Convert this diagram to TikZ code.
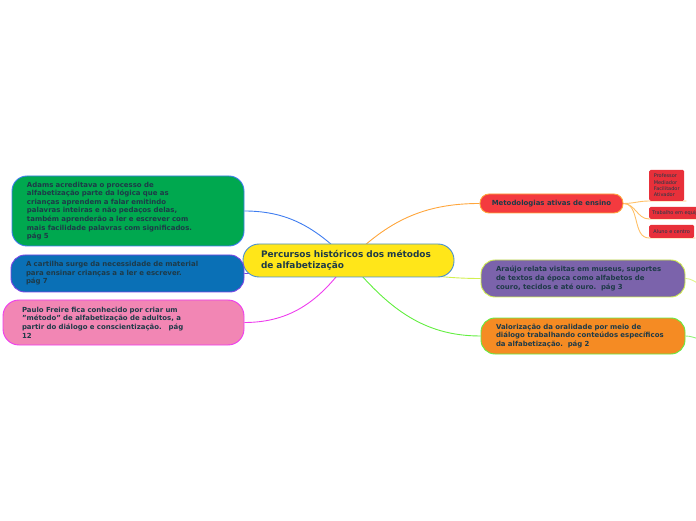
\documentclass[tikz,border=0pt]{standalone}
\usepackage{fontspec}
\setmainfont{DejaVu Sans}
\usetikzlibrary{backgrounds}
\definecolor{inkdark}{HTML}{1E3A48}
\definecolor{rootfill}{HTML}{FFE619}
\definecolor{rootline}{HTML}{4A90D0}
\definecolor{adamsfill}{HTML}{00A84F}
\definecolor{adamsline}{HTML}{3F7DF0}
\definecolor{cartfill}{HTML}{0A70B6}
\definecolor{cartline}{HTML}{7A45E6}
\definecolor{freirefill}{HTML}{F286B4}
\definecolor{freireline}{HTML}{EE3CEE}
\definecolor{metfill}{HTML}{F43A3F}
\definecolor{metline}{HTML}{FFA63C}
\definecolor{leafred}{HTML}{E8303A}
\definecolor{leafline}{HTML}{FFC066}
\definecolor{araujofill}{HTML}{7B63AB}
\definecolor{araujoline}{HTML}{D2F050}
\definecolor{oralfill}{HTML}{F58B23}
\definecolor{oralline}{HTML}{62EE40}
\begin{document}
\begin{tikzpicture}[x=1pt,y=1pt,
  topic/.style={rounded corners=14pt,line width=0.9pt,align=left,inner xsep=15pt,inner ysep=2pt,
    text=inkdark,font=\fontsize{6.95}{8.6}\selectfont\bfseries},
  leaf/.style={fill=leafred,rounded corners=1.5pt,align=left,inner xsep=3pt,inner ysep=2pt,
    text=inkdark,font=\fontsize{5}{6.3}\selectfont,anchor=south west},
  link/.style={line width=0.9pt}]
\useasboundingbox (0,0) rectangle (696,520);
\node[topic,fill=rootfill,draw=rootline,text width=175pt,inner xsep=18pt,minimum height=33pt,rounded corners=16pt,
  font=\fontsize{8.95}{11}\selectfont\bfseries] (central) at (348.5,259.5) {Percursos históricos dos métodos\\de alfabetização};
\node[topic,fill=adamsfill,draw=adamsline,text width=202pt,minimum height=70pt,rounded corners=15pt] (adams) at (128,309)
  {Adams acreditava o processo de\\alfabetização parte da lógica que as\\crianças aprendem a falar emitindo\\palavras inteiras e não pedaços delas,\\também aprenderão a ler e escrever com\\mais facilidade palavras com significados.\\pág 5};
\node[topic,fill=cartfill,draw=cartline,text width=203pt,minimum height=37pt] (cartilha) at (127.5,246.5)
  {A cartilha surge da necessidade de material\\para ensinar crianças a a ler e escrever.\\pág 7};
\node[topic,fill=freirefill,draw=freireline,text width=203pt,inner xsep=19pt,minimum height=45pt,rounded corners=16pt] (freire) at (123.5,197.5)
  {Paulo Freire fica conhecido por criar um\\"método" de alfabetização de adultos, a\\partir do diálogo e conscientização.\ \ \ pág\\12};
\node[topic,fill=metfill,draw=metline,align=center,inner xsep=2pt,minimum width=143pt,minimum height=19pt,rounded corners=9pt] (metodos) at (551.5,316.5)
  {Metodologias ativas de ensino};
\node[topic,fill=araujofill,draw=araujoline,text width=174pt,minimum height=37pt] (araujo) at (583,241.5)
  {Araújo relata visitas em museus, suportes\\de textos da época como alfabetos de\\couro, tecidos e até ouro.\ \ pág 3};
\node[topic,fill=oralfill,draw=oralline,text width=174pt,minimum height=36pt] (oral) at (583,184)
  {Valorização da oralidade por meio de\\diálogo trabalhando conteúdos específicos\\da alfabetização.\ \ pág 2};
\node[leaf,minimum width=35pt,minimum height=31pt] (professor) at (649,319) {Professor\\Mediador\\Facilitador\\Ativador};
\node[leaf,minimum height=12pt] (trabalho) at (649,301) {Trabalho em equipe};
\node[leaf,minimum width=45pt,minimum height=13pt] (aluno) at (649,282) {Aluno e centro};
\coordinate (araujoout) at (700,236);
\coordinate (oralout) at (700,181);
\begin{scope}[on background layer]
\draw[link,adamsline] (adams.east) to[out=0,in=135] (central.center);
\draw[link,cartline] (cartilha.east) to[out=0,in=190] (central.center);
\draw[link,freireline] (freire.east) to[out=0,in=235] (central.center);
\draw[link,metline] (central.center) to[out=45,in=180] (metodos.west);
\draw[link,araujoline] (central.center) to[out=-10,in=180] (araujo.west);
\draw[link,oralline] (central.center) to[out=-50,in=180] (oral.west);
\draw[link,araujoline!70] (araujo.east) to[out=0,in=160] (araujoout);
\draw[link,oralline!70] (oral.east) to[out=0,in=170] (oralout);
\draw[link,leafline] (metodos.east) to[out=0,in=180] (professor.south west) -- ([xshift=2pt]professor.south east);
\draw[link,leafline] (metodos.east) to[out=0,in=180] (trabalho.south west) -- (trabalho.south east);
\draw[link,leafline] (metodos.east) to[out=0,in=180] (aluno.south west) -- ([xshift=1pt]aluno.south east);
\end{scope}
\end{tikzpicture}
\end{document}
